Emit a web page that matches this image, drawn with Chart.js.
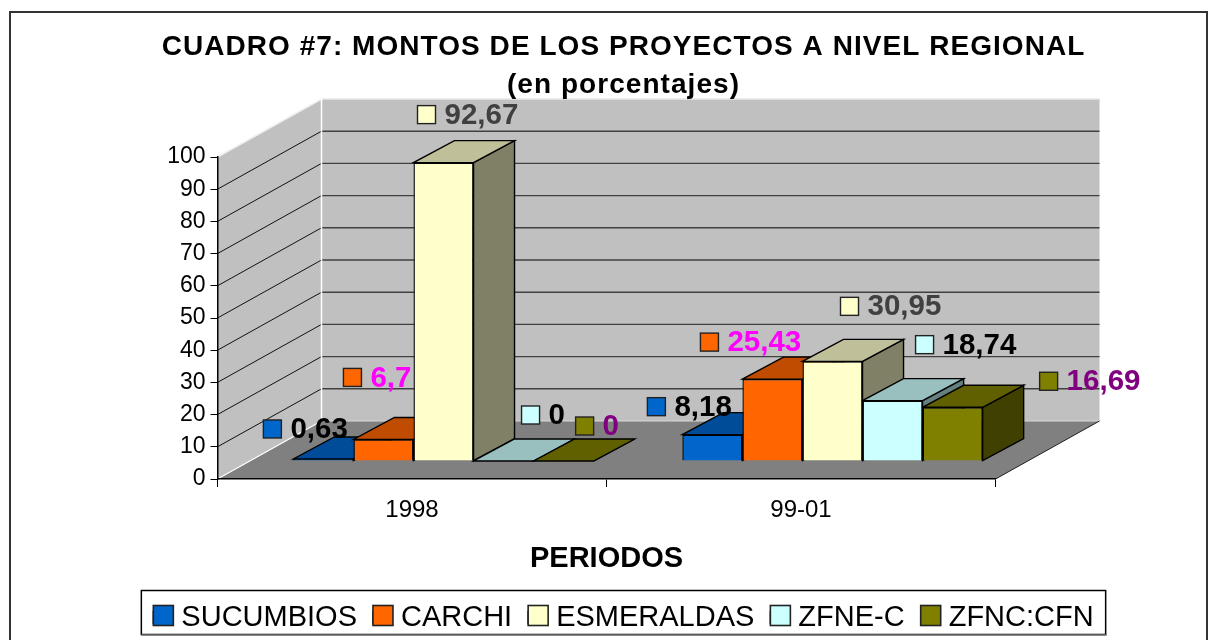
<!DOCTYPE html>
<html><head><meta charset="utf-8">
<style>html,body{margin:0;padding:0;background:#fff}canvas{display:block}</style>
<script src="https://cdn.jsdelivr.net/npm/chart.js@4"></script>
</head><body><canvas id="c" width="1217" height="640"></canvas>
<script>
const categories = ['1998', '99-01'];
const seriesNames = ['SUCUMBIOS', 'CARCHI', 'ESMERALDAS', 'ZFNE-C', 'ZFNC:CFN'];
const sucumbios = [0.63, 8.18];
const carchi = [6.7, 25.43];
const esmeraldas = [92.67, 30.95];
const zfneC = [0, 18.74];
const zfncCfn = [0, 16.69];
const seriesValues = [sucumbios, carchi, esmeraldas, zfneC, zfncCfn];
const frontColors = ['#0066CC', '#FF6600', '#FFFFCC', '#CCFFFF', '#808000'];
const topColors = ['#004C99', '#BF4C00', '#BFBF99', '#99BFBF', '#606000'];
const sideColors = ['#003366', '#803300', '#808066', '#668080', '#404000'];
const labelColors = ['#000000', '#FF00FF', '#404040', '#000000', '#800080'];
// marker offset from the bar's top-front centre, per series and category
const labelOffsets = [
  [[-51, -30], [-56, -28]],
  [[-31, -62], [-63, -37]],
  [[-17, -48], [17, -55]],
  [[27, -46], [32, -56]],
  [[21, -35], [96, -26]]
];
const FONT = '"Liberation Sans", Arial, sans-serif';
const WALL = {dx: 104, dy: -58};
const BAR_OFFSET = {dx: 31.5, dy: -18};
const BAR_DEPTH = {dx: 41, dy: -22};

function poly(ctx, pts, fill, stroke, lw) {
  ctx.beginPath();
  pts.forEach((p, i) => i ? ctx.lineTo(p[0], p[1]) : ctx.moveTo(p[0], p[1]));
  ctx.closePath();
  if (fill) { ctx.fillStyle = fill; ctx.fill(); }
  if (stroke) { ctx.strokeStyle = stroke; ctx.lineWidth = lw || 1; ctx.stroke(); }
}
function line(ctx, x1, y1, x2, y2, c, lw) {
  ctx.beginPath(); ctx.moveTo(x1, y1); ctx.lineTo(x2, y2);
  ctx.strokeStyle = c; ctx.lineWidth = lw || 1; ctx.stroke();
}

const scene3d = {
  id: 'scene3d',
  afterLayout(chart) {
    const tb = chart.titleBlock;
    if (tb && !tb._spaced) {
      const orig = tb.draw;
      tb.draw = function () {
        chart.ctx.save();
        chart.ctx.letterSpacing = '1.05px';
        orig.call(this);
        chart.ctx.restore();
      };
      tb._spaced = true;
    }
  },
  beforeDraw(chart) {
    const {ctx, chartArea: a, scales: {y}} = chart;
    const d = WALL;
    const t = a.top, b = a.bottom, l = a.left, r = a.right;
    ctx.save();
    ctx.strokeStyle = '#333'; ctx.lineWidth = 2;
    ctx.strokeRect(10, 12, 1197, 660);
    poly(ctx, [[l, t], [l + d.dx, t + d.dy], [l + d.dx, b + d.dy], [l, b]], '#C0C0C0');
    poly(ctx, [[l + d.dx, t + d.dy], [r + d.dx, t + d.dy], [r + d.dx, b + d.dy], [l + d.dx, b + d.dy]], '#C0C0C0');
    poly(ctx, [[l, b], [r, b], [r + d.dx, b + d.dy], [l + d.dx, b + d.dy]], '#808080');
    y.ticks.forEach(tk => {
      const py = y.getPixelForValue(tk.value);
      if (tk.value === 0 || tk.value === 100) return;
      line(ctx, l, py, l + d.dx, py + d.dy, '#111', 1);
      line(ctx, l + d.dx, py + d.dy, r + d.dx, py + d.dy, '#404040', 1.4);
    });
    line(ctx, l, t, l + d.dx, t + d.dy, '#F0F0F0', 1.5);
    line(ctx, l + d.dx, t + d.dy, r + d.dx, t + d.dy, '#E8E8E8', 1.5);
    line(ctx, l + d.dx, t + d.dy, l + d.dx, b + d.dy, '#FFFFFF', 1.5);
    line(ctx, l, b, l + d.dx, b + d.dy, '#FFFFFF', 1.2);
    line(ctx, l + d.dx, b + d.dy, r + d.dx, b + d.dy, '#D8D8D8', 1.2);
    line(ctx, r, b, r + d.dx, b + d.dy, '#202020', 1);
    ctx.restore();
  },
  beforeDatasetsDraw(chart) {
    const {ctx} = chart;
    const o = BAR_OFFSET, d = BAR_DEPTH;
    ctx.save();
    ctx.translate(o.dx, o.dy);
    // tops and sides, left to right; the native fronts are drawn after them
    seriesNames.forEach((_, si) => {
      chart.getDatasetMeta(si).data.forEach(el => {
        const x0 = el.x - el.width / 2, x1 = el.x + el.width / 2, yt = el.y, yb = el.base;
        poly(ctx, [[x1, yt], [x1 + d.dx, yt + d.dy], [x1 + d.dx, yb + d.dy], [x1, yb]], sideColors[si], '#000', 1.4);
        poly(ctx, [[x0, yt], [x1, yt], [x1 + d.dx, yt + d.dy], [x0 + d.dx, yt + d.dy]], topColors[si], '#000', 1.4);
      });
    });
  },
  afterDatasetsDraw(chart) {
    const {ctx} = chart;
    ctx.restore();
    const o = BAR_OFFSET;
    ctx.save();
    ctx.textBaseline = 'middle';
    ctx.textAlign = 'left';
    ctx.font = 'bold 29.5px ' + FONT;
    seriesNames.forEach((_, si) => {
      chart.getDatasetMeta(si).data.forEach((el, ci) => {
        const off = labelOffsets[si][ci];
        const mx = el.x + o.dx + off[0], my = el.y + o.dy + off[1];
        ctx.fillStyle = frontColors[si];
        ctx.strokeStyle = '#222'; ctx.lineWidth = 1.4;
        ctx.fillRect(mx - 9, my - 9, 18, 18);
        ctx.strokeRect(mx - 9, my - 9, 18, 18);
        ctx.fillStyle = labelColors[si];
        ctx.fillText(String(seriesValues[si][ci]).replace('.', ','), mx + 18, my + 1);
      });
    });
    ctx.restore();
  },
  afterDraw(chart) {
    const {ctx} = chart;
    const hb = chart.legend.legendHitBoxes;
    if (hb && hb.length) {
      const x0 = hb[0].left - 12, x1 = hb[hb.length - 1].left + hb[hb.length - 1].width + 12;
      ctx.save();
      ctx.strokeStyle = '#000'; ctx.lineWidth = 1.5;
      ctx.strokeRect(x0, 590.5, x1 - x0, 44);
      line(ctx, x0, 635, x1 + 1, 635, '#777', 1.5);
      // widen the legend keys: the text gap stays tight, as in the source
      hb.forEach((h, i) => {
        const cy = h.top + h.height / 2;
        ctx.fillStyle = frontColors[i];
        ctx.strokeStyle = '#222'; ctx.lineWidth = 1.6;
        ctx.fillRect(h.left, cy - 12, 20, 20);
        ctx.strokeRect(h.left, cy - 12, 20, 20);
      });
      ctx.restore();
    }
  }
};

new Chart(document.getElementById('c'), {
  type: 'bar',
  data: {
    labels: categories,
    datasets: seriesNames.map((name, i) => ({
      label: name,
      data: seriesValues[i],
      backgroundColor: frontColors[i],
      borderColor: '#000',
      borderWidth: 1.4,
      clip: false,
      categoryPercentage: 0.772,
      barPercentage: 1
    }))
  },
  plugins: [scene3d],
  options: {
    responsive: false,
    animation: false,
    layout: {padding: {left: 30, right: 0, top: 0, bottom: -2}},
    plugins: {
      tooltip: {enabled: false},
      title: {
        display: true,
        text: ['CUADRO #7: MONTOS DE LOS PROYECTOS A NIVEL REGIONAL', '(en porcentajes)'],
        color: '#000',
        font: {family: FONT, size: 28, weight: 'bold', lineHeight: 38 / 28},
        padding: {top: 28, bottom: 53}
      },
      legend: {
        position: 'bottom',
        labels: {
          color: '#000',
          font: {family: FONT, size: 29},
          boxWidth: 13.5, boxHeight: 12,
          padding: 16
        }
      }
    },
    scales: {
      x: {
        offset: true,
        ticks: {color: '#000', font: {family: FONT, size: 24}, padding: 9, maxRotation: 0},
        grid: {display: true, drawOnChartArea: false, drawTicks: true, tickLength: 8, color: '#000', offset: true},
        border: {display: true, color: '#000', width: 1.5},
        title: {display: true, text: 'PERIODOS', color: '#000', font: {family: FONT, size: 29, weight: 'bold'}, padding: {top: 8, bottom: 10.4}}
      },
      y: {
        min: 0, max: 100,
        ticks: {stepSize: 10, color: '#000', font: {family: FONT, size: 23}, padding: 5},
        grid: {drawOnChartArea: false, drawTicks: true, tickLength: 7, color: '#000'},
        border: {display: true, color: '#000', width: 1.5},
        afterFit(s) { s.width = 187.5; }
      },
      yRight: {
        position: 'right', min: 0, max: 100,
        ticks: {display: false},
        grid: {display: false, drawTicks: false},
        border: {display: false},
        afterFit(s) { s.width = 221.5; }
      }
    }
  }
});
</script></body></html>
